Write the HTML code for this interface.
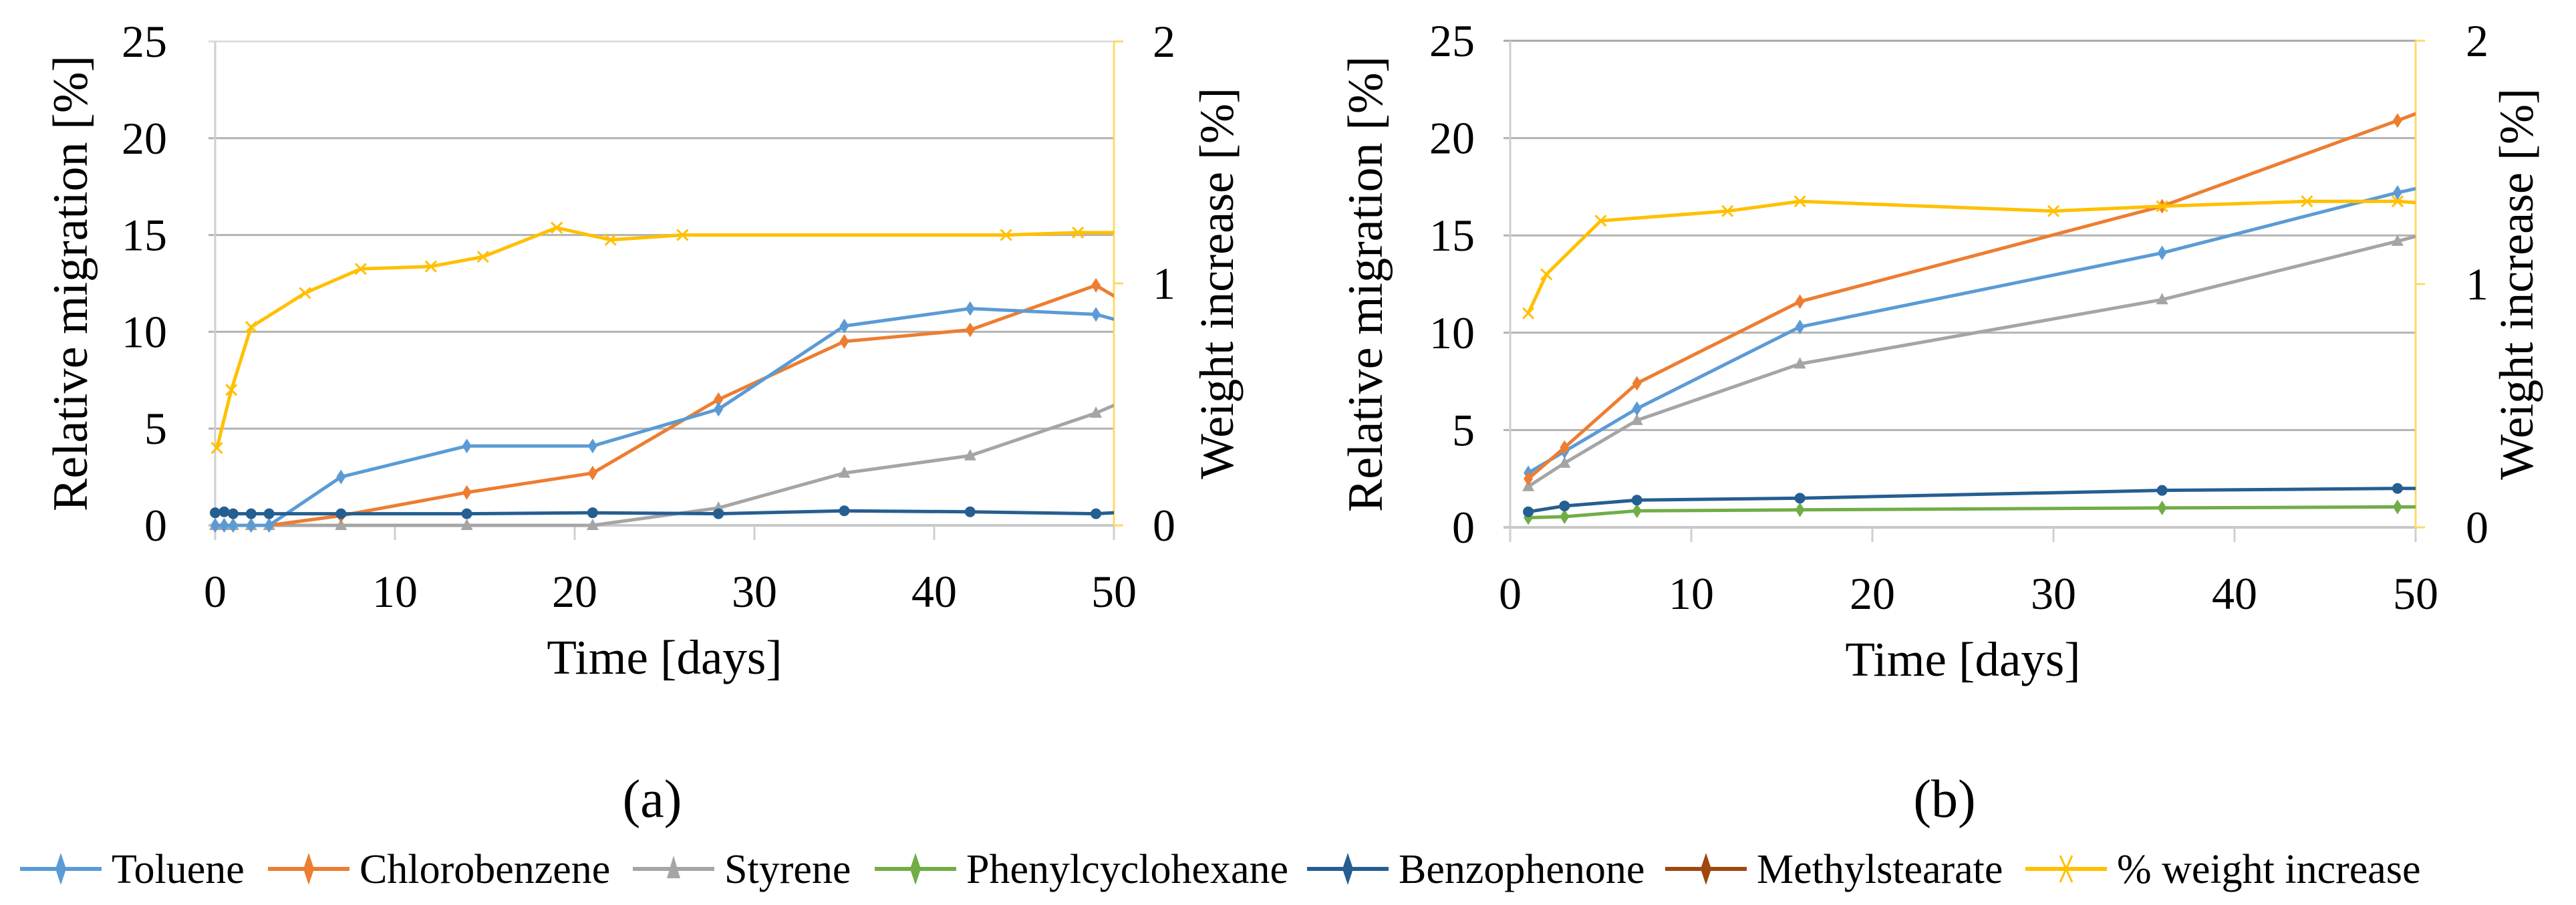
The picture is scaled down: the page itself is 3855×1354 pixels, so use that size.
<!DOCTYPE html>
<html><head><meta charset="utf-8">
<style>
html,body{margin:0;padding:0;background:#fff;}
svg{display:block;}
text{font-family:"Liberation Serif",serif;fill:#000;}
</style></head>
<body>
<svg id="fig" width="3855" height="1354" viewBox="0 0 3855 1354" xmlns="http://www.w3.org/2000/svg"></svg>
<script>
// ---- data ----
const seriesNames = ["Toluene","Chlorobenzene","Styrene","Phenylcyclohexane","Benzophenone","Methylstearate","% weight increase"];
const seriesColors = ["#5b9bd5","#ed7d31","#a5a5a5","#70ad47","#255e91","#9e480e","#ffc000"];
const xTicks = [0,10,20,30,40,50];
const yTicksLeft = [0,5,10,15,20,25];
const yTicksRight = [0,1,2];

// panel (a)
const aToluene = [[0,0],[0.5,0],[1,0],[2,0],[3,0],[7,2.5],[14,4.1],[21,4.1],[28,6.0],[35,10.3],[42,11.2],[49,10.9],[51,10.4]];
const aChloro = [[0,0],[0.5,0],[1,0],[2,0],[3,0],[7,0.5],[14,1.7],[21,2.7],[28,6.5],[35,9.5],[42,10.1],[49,12.4],[51,11.3]];
const aStyrene = [[0,0],[0.5,0],[1,0],[2,0],[3,0],[7,0],[14,0],[21,0],[28,0.9],[35,2.7],[42,3.6],[49,5.8],[51,6.6]];
const aBenzo = [[0,0.65],[0.5,0.7],[1,0.6],[2,0.6],[3,0.6],[7,0.6],[14,0.6],[21,0.65],[28,0.6],[35,0.75],[42,0.7],[49,0.6],[51,0.7]];
const aWeight = [[0.1,0.32],[0.9,0.56],[2,0.82],[5,0.96],[8.1,1.06],[12,1.07],[14.9,1.11],[19,1.23],[22,1.18],[26,1.2],[44,1.2],[48,1.21],[51,1.21]];

// panel (b)
const bToluene = [[1,2.8],[3,3.9],[7,6.1],[16,10.3],[36,14.1],[49,17.2],[51,17.6]];
const bChloro = [[1,2.5],[3,4.1],[7,7.4],[16,11.6],[36,16.5],[49,20.9],[51,21.6]];
const bStyrene = [[1,2.1],[3,3.3],[7,5.5],[16,8.4],[36,11.7],[49,14.7],[51,15.2]];
const bPhenyl = [[1,0.5],[3,0.55],[7,0.85],[16,0.9],[36,1.0],[49,1.05],[51,1.05]];
const bBenzo = [[1,0.8],[3,1.1],[7,1.4],[16,1.5],[36,1.9],[49,2.0],[51,2.0]];
const bWeight = [[1,0.88],[2,1.04],[5,1.26],[12,1.30],[16,1.34],[30,1.30],[36,1.32],[44,1.34],[49,1.34],[51,1.33]];

const NS="http://www.w3.org/2000/svg";
const svg=document.getElementById('fig');
function mk(tag,attrs,parent){const e=document.createElementNS(NS,tag);for(const k in attrs)e.setAttribute(k,attrs[k]);(parent||svg).appendChild(e);return e;}

function panel(id,L,R,T,B,labelX,rightLabelX,titleX,rightTitleX,series,weight,topGridColor,caption,captionX){
  const g=mk('g',{});
  
  
  const xs=v=>L+(R-L)*v/50;
  const yl=v=>B-(B-T)*v/25;
  const yr=v=>B-(B-T)*v/2;
  yTicksLeft.forEach(v=>{
    if(v===0)return;
    const ln=mk('line',{x1:L-10,x2:R,y1:yl(v),y2:yl(v),stroke:v===25?topGridColor:'#b3b3b3','stroke-width':3},g);
    
    
  });
  yTicksLeft.forEach(v=>{
    const t=mk('text',{x:labelX,y:yl(v)+23,'font-size':68,'text-anchor':'end'},g);
    t.textContent=v;
    
    
  });
  mk('line',{x1:L,x2:L,y1:T,y2:B+22,stroke:'#cfcfcf','stroke-width':3},g);
  const xa=mk('line',{x1:L-10,x2:R,y1:B,y2:B,stroke:'#c8c8c8','stroke-width':4},g);
  
  
  xTicks.forEach(v=>{
    mk('line',{x1:xs(v),x2:xs(v),y1:B,y2:B+22,stroke:'#cfcfcf','stroke-width':3},g);
    const t=mk('text',{x:xs(v),y:B+122,'font-size':68,'text-anchor':'middle'},g);
    t.textContent=v;
    
    
  });
  const ra=mk('line',{x1:R,x2:R,y1:T,y2:B,stroke:'#ffd966','stroke-width':3},g);
  
  
  yTicksRight.forEach(v=>{
    mk('line',{x1:R,x2:R+14,y1:yr(v),y2:yr(v),stroke:'#ffd966','stroke-width':3},g);
    const t=mk('text',{x:rightLabelX,y:yr(v)+23,'font-size':68,'text-anchor':'start'},g);
    t.textContent=v;
    
    
  });
  const yt=mk('text',{x:titleX,y:(T+B)/2,'font-size':74,'text-anchor':'middle',transform:`rotate(-90 ${titleX} ${(T+B)/2})`},g);
  yt.textContent='Relative  migration [%]';
  
  
  const rt=mk('text',{x:rightTitleX,y:(T+B)/2,'font-size':72,'text-anchor':'middle',transform:`rotate(-90 ${rightTitleX} ${(T+B)/2})`},g);
  rt.textContent='Weight increase [%]';
  
  
  const xt=mk('text',{x:(L+R)/2,y:B+222,'font-size':73,'text-anchor':'middle'},g);
  xt.textContent='Time [days]';
  
  
  const cp=mk('text',{x:captionX,y:1222,'font-size':80,'text-anchor':'middle'},g);
  cp.textContent=caption;
  
  
  const cid='clip'+id;
  const cpth=mk('clipPath',{id:cid},g);
  mk('rect',{x:L-20,y:T-20,width:R-L+20,height:B-T+40},cpth);
  const sg=mk('g',{'clip-path':`url(#${cid})`},g);
  function drawSeries(pts,ci,ys,marker){
    const col=seriesColors[ci];
    const p=mk('polyline',{points:pts.map(d=>xs(d[0])+','+ys(d[1])).join(' '),fill:'none',stroke:col,'stroke-width':5,'stroke-linejoin':'round'},sg);
    
    
    pts.forEach(d=>{
      if(d[0]>50)return;
      const x=xs(d[0]),y=ys(d[1]);
      let m;
      if(marker==='circle') m=mk('circle',{cx:x,cy:y,r:8,fill:col},sg);
      else if(marker==='tri') m=mk('polygon',{points:`${x},${y-10} ${x+9},${y+7} ${x-9},${y+7}`,fill:col},sg);
      else if(marker==='x'){m=mk('path',{d:`M${x-8} ${y-8}L${x+8} ${y+8}M${x+8} ${y-8}L${x-8} ${y+8}`,stroke:col,'stroke-width':3},sg);}
      else m=mk('polygon',{points:`${x},${y-11} ${x+7},${y} ${x},${y+11} ${x-7},${y}`,fill:col},sg);
      
      
    });
  }
  series.forEach(s=>drawSeries(s[0],s[1],yl,s[2]));
  drawSeries(weight,6,yr,'x');
}

panel('a',322,1667,62,786,250,1725,130,1845,
  [[aStyrene,2,'tri'],[aChloro,1,'dia'],[aToluene,0,'dia'],[aBenzo,4,'circle']],aWeight,'#dedede','(a)',976);
panel('b',2260,3615,61,789,2207,3690,2068,3790,
  [[bStyrene,2,'tri'],[bPhenyl,3,'dia'],[bBenzo,4,'circle'],[bToluene,0,'dia'],[bChloro,1,'dia']],bWeight,'#a6a6a6','(b)',2910);

const legX=[30,401,947,1309,1956,2492,3031];
const lg=mk('g',{});


seriesNames.forEach((n,i)=>{
  const e=mk('g',{},lg);
  
  
  const x=legX[i],y=1300,col=seriesColors[i];
  mk('line',{x1:x,x2:x+122,y1:y,y2:y,stroke:col,'stroke-width':6},e);
  const cx=x+61;
  if(i===6) mk('path',{d:`M${cx-9} ${y-20}L${cx+9} ${y+20}M${cx+9} ${y-20}L${cx-9} ${y+20}`,stroke:col,'stroke-width':3},e);
  else if(i===2) mk('polygon',{points:`${cx},${y-20} ${cx+10},${y+14} ${cx-10},${y+14}`,fill:col},e);
  else mk('polygon',{points:`${cx},${y-24} ${cx+8},${y} ${cx},${y+24} ${cx-8},${y}`,fill:col},e);
  const t=mk('text',{x:x+137,y:y+21,'font-size':62},e);
  t.textContent=n;
});
</script>
</body></html>
